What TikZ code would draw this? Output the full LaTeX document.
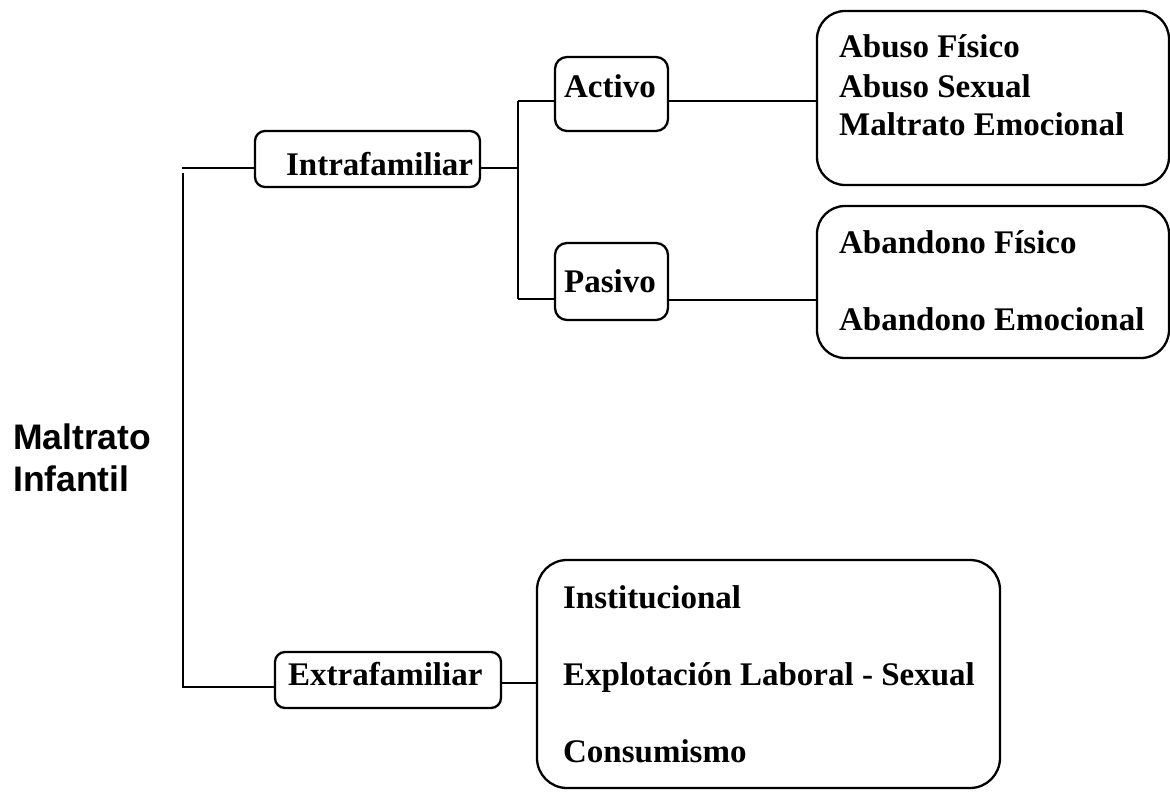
\documentclass[tikz,border=0pt]{standalone}
\usepackage{fontspec}
\setmainfont{Liberation Serif}
\newfontfamily\headfont{Liberation Sans}
\begin{document}
\begin{tikzpicture}[x=1pt, y=-1pt, line width=2.3pt, line cap=butt,
  box/.style={draw, rounded corners=#1, inner sep=0pt, outer sep=0pt, anchor=north west},
  lbl/.style={anchor=base west, inner sep=0pt, font=\fontsize{33}{38}\selectfont\bfseries},
  head/.style={anchor=base west, inner sep=0pt, font=\headfont\fontsize{35.5}{42}\selectfont\bfseries}]
\useasboundingbox (0,0) rectangle (1170,792);

% root label
\node[head] (root1) at (12,449) {Maltrato};
\node[head] (root2) at (12,491) {Infantil};

% second level boxes
\node[box=10pt, minimum width=225pt, minimum height=56pt] (intra) at (255,131) {};
\node[lbl] (intraT) at (285,175) {Intrafamiliar};
\node[box=10pt, minimum width=226pt, minimum height=56pt] (extra) at (275,652) {};
\node[lbl] (extraT) at (287,685) {Extrafamiliar};

% third level boxes
\node[box=12pt, minimum width=113pt, minimum height=74pt] (activo) at (555,57) {};
\node[lbl] (activoT) at (563,97) {Activo};
\node[box=12pt, minimum width=113pt, minimum height=77pt] (pasivo) at (555,243) {};
\node[lbl] (pasivoT) at (563,292) {Pasivo};

% leaf boxes
\node[box=28pt, minimum width=352pt, minimum height=174pt] (abuso) at (817,11) {};
\node[lbl] (ab1) at (838,58) {Abuso Físico};
\node[lbl] (ab2) at (838,97) {Abuso Sexual};
\node[lbl] (ab3) at (838,135) {Maltrato Emocional};

\node[box=28pt, minimum width=352pt, minimum height=152pt] (aband) at (817,206) {};
\node[lbl] (an1) at (838,253) {Abandono Físico};
\node[lbl] (an2) at (838,330) {Abandono Emocional};

\node[box=30pt, minimum width=463pt, minimum height=228pt] (inst) at (537,560) {};
\node[lbl] (in1) at (562,608) {Institucional};
\node[lbl] (in2) at (562,685) {Explotación Laboral - Sexual};
\node[lbl] (in3) at (562,762) {Consumismo};

% main bracket
\coordinate (spT) at (182,168);
\coordinate (spB) at (182,687);
\draw (183,173) -- (183,686);
\draw (spT) -- (intra.west |- spT);
\draw (spB) -- (extra.west |- spB);

% intrafamiliar branch
\coordinate (brA) at (518,101);
\coordinate (brP) at (518,299);
\coordinate (brI) at (518,168);
\draw (intra.east |- brI) -- (brI);
\draw (brA) -- (brP);
\draw (brA) -- (activo.west |- brA);
\draw (brP) -- (pasivo.west |- brP);
\draw (activo.east |- brA) -- (abuso.west |- brA);
\draw (pasivo.east |- 0,300) -- (aband.west |- 0,300);

% extrafamiliar branch
\draw (extra.east |- 0,683) -- (inst.west |- 0,683);
\end{tikzpicture}
\end{document}
